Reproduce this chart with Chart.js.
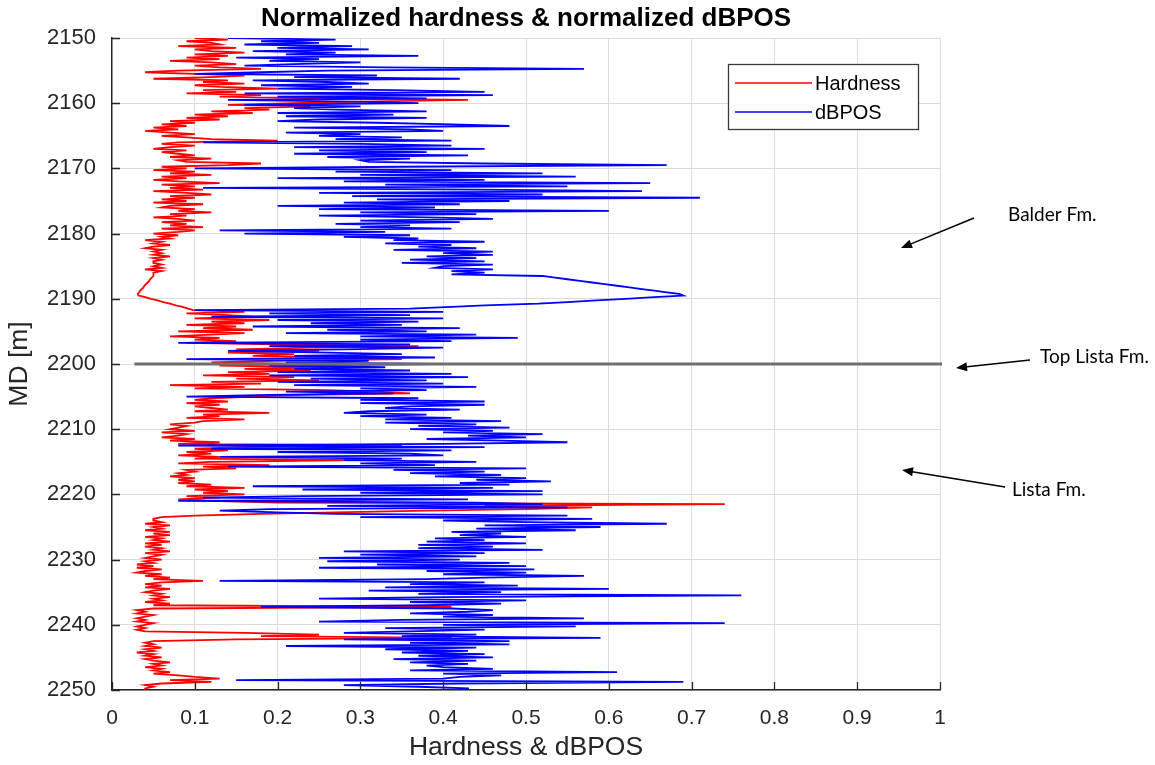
<!DOCTYPE html>
<html>
<head>
<meta charset="utf-8">
<script src="https://cdn.jsdelivr.net/npm/chart.js@4.4.1/dist/chart.umd.min.js"></script>
<style>
  html, body { margin: 0; padding: 0; background: #ffffff; }
  #wrap { position: relative; width: 1155px; height: 765px; }
</style>
</head>
<body>
<div id="wrap"><canvas id="chart" width="1155" height="765"></canvas></div>
<script>
// Measured depth (MD, metres), sampled every 0.25 m
const depthM = [
  2150,2150.25,2150.5,2150.75,2151,2151.25,2151.5,2151.75,
  2152,2152.25,2152.5,2152.75,2153,2153.25,2153.5,2153.75,
  2154,2154.25,2154.5,2154.75,2155,2155.25,2155.5,2155.75,
  2156,2156.25,2156.5,2156.75,2157,2157.25,2157.5,2157.75,
  2158,2158.25,2158.5,2158.75,2159,2159.25,2159.5,2159.75,
  2160,2160.25,2160.5,2160.75,2161,2161.25,2161.5,2161.75,
  2162,2162.25,2162.5,2162.75,2163,2163.25,2163.5,2163.75,
  2164,2164.25,2164.5,2164.75,2165,2165.25,2165.5,2165.75,
  2166,2166.25,2166.5,2166.75,2167,2167.25,2167.5,2167.75,
  2168,2168.25,2168.5,2168.75,2169,2169.25,2169.5,2169.75,
  2170,2170.25,2170.5,2170.75,2171,2171.25,2171.5,2171.75,
  2172,2172.25,2172.5,2172.75,2173,2173.25,2173.5,2173.75,
  2174,2174.25,2174.5,2174.75,2175,2175.25,2175.5,2175.75,
  2176,2176.25,2176.5,2176.75,2177,2177.25,2177.5,2177.75,
  2178,2178.25,2178.5,2178.75,2179,2179.25,2179.5,2179.75,
  2180,2180.25,2180.5,2180.75,2181,2181.25,2181.5,2181.75,
  2182,2182.25,2182.5,2182.75,2183,2183.25,2183.5,2183.75,
  2184,2184.25,2184.5,2184.75,2185,2185.25,2185.5,2185.75,
  2186,2186.25,2186.5,2186.75,2187,2187.25,2187.5,2187.75,
  2188,2188.25,2188.5,2188.75,2189,2189.25,2189.5,2189.75,
  2190,2190.25,2190.5,2190.75,2191,2191.25,2191.5,2191.75,
  2192,2192.25,2192.5,2192.75,2193,2193.25,2193.5,2193.75,
  2194,2194.25,2194.5,2194.75,2195,2195.25,2195.5,2195.75,
  2196,2196.25,2196.5,2196.75,2197,2197.25,2197.5,2197.75,
  2198,2198.25,2198.5,2198.75,2199,2199.25,2199.5,2199.75,
  2200,2200.25,2200.5,2200.75,2201,2201.25,2201.5,2201.75,
  2202,2202.25,2202.5,2202.75,2203,2203.25,2203.5,2203.75,
  2204,2204.25,2204.5,2204.75,2205,2205.25,2205.5,2205.75,
  2206,2206.25,2206.5,2206.75,2207,2207.25,2207.5,2207.75,
  2208,2208.25,2208.5,2208.75,2209,2209.25,2209.5,2209.75,
  2210,2210.25,2210.5,2210.75,2211,2211.25,2211.5,2211.75,
  2212,2212.25,2212.5,2212.75,2213,2213.25,2213.5,2213.75,
  2214,2214.25,2214.5,2214.75,2215,2215.25,2215.5,2215.75,
  2216,2216.25,2216.5,2216.75,2217,2217.25,2217.5,2217.75,
  2218,2218.25,2218.5,2218.75,2219,2219.25,2219.5,2219.75,
  2220,2220.25,2220.5,2220.75,2221,2221.25,2221.5,2221.75,
  2222,2222.25,2222.5,2222.75,2223,2223.25,2223.5,2223.75,
  2224,2224.25,2224.5,2224.75,2225,2225.25,2225.5,2225.75,
  2226,2226.25,2226.5,2226.75,2227,2227.25,2227.5,2227.75,
  2228,2228.25,2228.5,2228.75,2229,2229.25,2229.5,2229.75,
  2230,2230.25,2230.5,2230.75,2231,2231.25,2231.5,2231.75,
  2232,2232.25,2232.5,2232.75,2233,2233.25,2233.5,2233.75,
  2234,2234.25,2234.5,2234.75,2235,2235.25,2235.5,2235.75,
  2236,2236.25,2236.5,2236.75,2237,2237.25,2237.5,2237.75,
  2238,2238.25,2238.5,2238.75,2239,2239.25,2239.5,2239.75,
  2240,2240.25,2240.5,2240.75,2241,2241.25,2241.5,2241.75,
  2242,2242.25,2242.5,2242.75,2243,2243.25,2243.5,2243.75,
  2244,2244.25,2244.5,2244.75,2245,2245.25,2245.5,2245.75,
  2246,2246.25,2246.5,2246.75,2247,2247.25,2247.5,2247.75,
  2248,2248.25,2248.5,2248.75,2249,2249.25,2249.5,2249.75,
  2250
];

// Normalized hardness at each depth
const hardness = [
  0.10,0.14,0.09,0.12, 0.13,0.08,0.15,0.10,
  0.12,0.16,0.10,0.14, 0.09,0.13,0.07,0.12,
  0.15,0.10,0.13,0.18, 0.08,0.04,0.10,0.16,
  0.12,0.05,0.14,0.11, 0.16,0.10,0.13,0.20,
  0.11,0.15,0.09,0.18, 0.13,0.25,0.43,0.30,
  0.22,0.14,0.24,0.16, 0.19,0.12,0.17,0.10,
  0.14,0.09,0.13,0.07, 0.10,0.06,0.09,0.05,
  0.08,0.04,0.07,0.10, 0.06,0.09,0.12,0.20,
  0.08,0.06,0.10,0.07, 0.05,0.09,0.06,0.08,
  0.10,0.07,0.12,0.08, 0.09,0.18,0.14,0.06,
  0.09,0.05,0.10,0.07, 0.12,0.06,0.09,0.05,
  0.08,0.13,0.06,0.10, 0.07,0.11,0.05,0.09,
  0.12,0.07,0.10,0.06, 0.09,0.05,0.11,0.07,
  0.06,0.10,0.08,0.12, 0.07,0.09,0.05,0.08,
  0.10,0.06,0.09,0.07, 0.11,0.06,0.10,0.08,
  0.05,0.08,0.06,0.07, 0.04,0.06,0.05,0.07,
  0.05,0.04,0.06,0.05, 0.06,0.05,0.07,0.05,
  0.06,0.05,0.05,0.06, 0.05,0.06,0.04,0.06,
  0.05,0.05,0.05,0.048, 0.046,0.045,0.043,0.041,
  0.039,0.038,0.036,0.034, 0.033,0.031,0.032,0.04,
  0.047,0.055,0.062,0.07, 0.077,0.085,0.092,0.098,
  0.16,0.09,0.14,0.17, 0.10,0.19,0.12,0.16,
  0.09,0.15,0.11,0.17, 0.08,0.16,0.12,0.07,
  0.13,0.10,0.15,0.09, 0.20,0.37,0.24,0.15,
  0.25,0.14,0.22,0.17, 0.27,0.35,0.20,0.12,
  0.21,0.13,0.26,0.16, 0.24,0.14,0.19,0.11,
  0.22,0.15,0.25,0.12, 0.18,0.07,0.16,0.10,
  0.26,0.32,0.36,0.23, 0.17,0.12,0.10,0.14,
  0.09,0.13,0.10,0.12, 0.14,0.10,0.19,0.11,
  0.13,0.09,0.16,0.11, 0.10,0.07,0.09,0.08,
  0.07,0.10,0.06,0.09, 0.08,0.06,0.10,0.07,
  0.13,0.08,0.35,0.16, 0.10,0.14,0.09,0.12,
  0.08,0.13,0.10,0.30, 0.12,0.08,0.19,0.11,
  0.15,0.09,0.10,0.08, 0.09,0.07,0.10,0.08,
  0.10,0.08,0.12,0.09, 0.16,0.10,0.14,0.11,
  0.16,0.09,0.13,0.08, 0.12,0.20,0.74,0.45,
  0.58,0.50,0.38,0.27, 0.18,0.10,0.06,0.05,
  0.05,0.06,0.04,0.07, 0.05,0.06,0.04,0.07,
  0.05,0.07,0.04,0.06, 0.05,0.07,0.04,0.06,
  0.04,0.06,0.05,0.07, 0.04,0.06,0.05,0.04,
  0.06,0.04,0.05,0.03, 0.05,0.03,0.06,0.04,
  0.03,0.06,0.04,0.07, 0.05,0.11,0.06,0.04,
  0.06,0.04,0.07,0.05, 0.04,0.06,0.05,0.07,
  0.05,0.06,0.04,0.07, 0.05,0.41,0.05,0.03,
  0.04,0.03,0.05,0.04, 0.03,0.04,0.03,0.05,
  0.04,0.03,0.04,0.03, 0.04,0.16,0.25,0.18,
  0.41,0.15,0.05,0.04, 0.05,0.04,0.06,0.04,
  0.05,0.03,0.05,0.04, 0.06,0.04,0.05,0.07,
  0.05,0.06,0.04,0.06, 0.05,0.07,0.05,0.08,
  0.10,0.13,0.07,0.12, 0.06,0.04,0.05,0.04,
  0.04
];

// Normalized dBPOS at each depth
const dbpos = [
  0.14,0.27,0.18,0.25, 0.16,0.29,0.20,0.31,
  0.17,0.27,0.21,0.37, 0.15,0.25,0.19,0.30,
  0.22,0.16,0.33,0.57, 0.26,0.18,0.10,0.32,
  0.22,0.42,0.17,0.26, 0.31,0.18,0.29,0.20,
  0.34,0.45,0.16,0.46, 0.20,0.38,0.14,0.29,
  0.37,0.16,0.30,0.22, 0.27,0.38,0.20,0.34,
  0.21,0.38,0.25,0.20, 0.32,0.41,0.48,0.22,
  0.36,0.40,0.21,0.30, 0.25,0.35,0.27,0.41,
  0.11,0.30,0.41,0.22, 0.45,0.25,0.38,0.22,
  0.43,0.26,0.36,0.30, 0.31,0.45,0.67,0.35,
  0.10,0.41,0.27,0.52, 0.30,0.56,0.20,0.45,
  0.28,0.65,0.33,0.55, 0.11,0.44,0.64,0.25,
  0.52,0.29,0.71,0.32, 0.48,0.28,0.42,0.20,
  0.39,0.25,0.60,0.30, 0.44,0.25,0.38,0.46,
  0.30,0.42,0.27,0.36, 0.30,0.41,0.13,0.33,
  0.16,0.36,0.28,0.37, 0.34,0.45,0.33,0.41,
  0.37,0.44,0.34,0.46, 0.40,0.46,0.38,0.44,
  0.36,0.45,0.35,0.46, 0.40,0.39,0.46,0.41,
  0.45,0.41,0.52,0.535, 0.55,0.565,0.58,0.595,
  0.61,0.625,0.64,0.655, 0.67,0.685,0.69,0.655,
  0.62,0.585,0.55,0.515, 0.45,0.41,0.36,0.10,
  0.40,0.19,0.36,0.12, 0.40,0.20,0.37,0.24,
  0.35,0.17,0.42,0.26, 0.38,0.21,0.44,0.30,
  0.49,0.30,0.41,0.08, 0.36,0.19,0.40,0.28,
  0.14,0.26,0.35,0.22, 0.39,0.09,0.31,0.21,
  0.39,0.19,0.33,0.22, 0.36,0.20,0.41,0.19,
  0.43,0.24,0.38,0.20, 0.40,0.22,0.44,0.30,
  0.38,0.21,0.34,0.19, 0.09,0.37,0.30,0.45,
  0.30,0.45,0.36,0.33, 0.42,0.31,0.28,0.38,
  0.30,0.41,0.33,0.47, 0.33,0.44,0.37,0.48,
  0.36,0.46,0.40,0.52, 0.43,0.50,0.38,0.47,
  0.55,0.40,0.08,0.45, 0.12,0.41,0.20,0.36,
  0.40,0.13,0.35,0.28, 0.44,0.30,0.39,0.14,
  0.50,0.34,0.45,0.36, 0.47,0.39,0.50,0.44,
  0.53,0.42,0.48,0.17, 0.46,0.23,0.52,0.30,
  0.52,0.23,0.11,0.43, 0.08,0.44,0.52,0.26,
  0.55,0.19,0.13,0.20, 0.27,0.55,0.30,0.58,
  0.40,0.50,0.67,0.45, 0.59,0.44,0.56,0.41,
  0.47,0.42,0.50,0.39, 0.45,0.38,0.50,0.37,
  0.46,0.37,0.52,0.28, 0.45,0.30,0.44,0.25,
  0.42,0.26,0.48,0.32, 0.50,0.25,0.51,0.38,
  0.50,0.40,0.57,0.45, 0.38,0.13,0.45,0.36,
  0.49,0.33,0.60,0.31, 0.47,0.37,0.76,0.40,
  0.25,0.50,0.36,0.47, 0.38,0.18,0.41,0.46,
  0.43,0.36,0.46,0.40, 0.57,0.35,0.25,0.74,
  0.40,0.56,0.33,0.45, 0.36,0.28,0.44,0.35,
  0.59,0.28,0.48,0.36, 0.48,0.21,0.44,0.33,
  0.43,0.35,0.45,0.37, 0.46,0.34,0.44,0.36,
  0.43,0.38,0.40,0.46, 0.36,0.61,0.40,0.47,
  0.42,0.40,0.15,0.69, 0.42,0.28,0.37,0.43,
  0.43
];

const seriesNames = ['Hardness', 'dBPOS'];
const xTickValues = [0, 0.1, 0.2, 0.3, 0.4, 0.5, 0.6, 0.7, 0.8, 0.9, 1];
const xTickLabels = ['0', '0.1', '0.2', '0.3', '0.4', '0.5', '0.6', '0.7', '0.8', '0.9', '1'];
const yTickValues = [2150, 2160, 2170, 2180, 2190, 2200, 2210, 2220, 2230, 2240, 2250];
const yTickLabels = ['2150', '2160', '2170', '2180', '2190', '2200', '2210', '2220', '2230', '2240', '2250'];

// Formation tops / intervals marked beside the log
const topListaDepth = 2200;
const formationLabels = ['Balder Fm.', 'Top Lista Fm.', 'Lista Fm.'];

const FONT = "'Liberation Sans', Arial, Helvetica, sans-serif";
const NOTE_FONT = "Lato, 'Open Sans', sans-serif";
const AXIS_COLOR = '#262626';

function lookup(values, labels, v) {
  const i = values.findIndex(t => Math.abs(t - v) < 1e-6);
  return i < 0 ? '' : labels[i];
}

function arrow(ctx, x1, y1, x2, y2) {
  const ang = Math.atan2(y2 - y1, x2 - x1);
  const len = 11, half = 4.5;
  ctx.beginPath();
  ctx.moveTo(x1, y1);
  ctx.lineTo(x2 - Math.cos(ang) * len * 0.8, y2 - Math.sin(ang) * len * 0.8);
  ctx.stroke();
  ctx.beginPath();
  ctx.moveTo(x2, y2);
  ctx.lineTo(x2 - Math.cos(ang) * len + Math.sin(ang) * half, y2 - Math.sin(ang) * len - Math.cos(ang) * half);
  ctx.lineTo(x2 - Math.cos(ang) * len - Math.sin(ang) * half, y2 - Math.sin(ang) * len + Math.cos(ang) * half);
  ctx.closePath();
  ctx.fill();
}

// Inward tick marks, the Top Lista marker line, the boxed legend and the formation notes
const overlay = {
  id: 'overlay',
  afterDatasetsDraw(chart) {
    const { ctx, chartArea: a, scales: { x, y } } = chart;
    ctx.save();
    // inward ticks
    ctx.strokeStyle = AXIS_COLOR;
    ctx.lineWidth = 1.3;
    ctx.beginPath();
    yTickValues.forEach(v => {
      const py = Math.round(y.getPixelForValue(v)) + 0.5;
      ctx.moveTo(a.left, py); ctx.lineTo(a.left + 8, py);
    });
    xTickValues.forEach(v => {
      const px = Math.round(x.getPixelForValue(v)) + 0.5;
      ctx.moveTo(px, a.bottom); ctx.lineTo(px, a.bottom - 8);
    });
    ctx.stroke();

    // Top Lista Fm. marker
    const ty = y.getPixelForValue(topListaDepth);
    ctx.strokeStyle = '#6f6f6f';
    ctx.lineWidth = 3;
    ctx.beginPath();
    ctx.moveTo(x.getPixelForValue(0.027), ty);
    ctx.lineTo(a.right + 2, ty);
    ctx.stroke();

    // legend
    const lx = 728.5, ly = 64.5, lw = 190, lh = 65;
    ctx.fillStyle = '#ffffff';
    ctx.fillRect(lx, ly, lw, lh);
    ctx.strokeStyle = '#3a3a3a';
    ctx.lineWidth = 1.3;
    ctx.strokeRect(lx, ly, lw, lh);
    const colors = ['#ff0000', '#0000ff'];
    const rows = [83, 112];
    ctx.font = '20px ' + FONT;
    ctx.textBaseline = 'middle';
    ctx.textAlign = 'left';
    seriesNames.forEach((name, i) => {
      ctx.strokeStyle = colors[i];
      ctx.lineWidth = 1.6;
      ctx.beginPath();
      ctx.moveTo(735, rows[i]); ctx.lineTo(812, rows[i]);
      ctx.stroke();
      ctx.fillStyle = '#000000';
      ctx.fillText(name, 815, rows[i] + 1);
    });

    // formation notes and arrows
    ctx.fillStyle = '#000000';
    ctx.strokeStyle = '#000000';
    ctx.lineWidth = 1.5;
    ctx.font = '19px ' + NOTE_FONT;
    ctx.fillText(formationLabels[0], 1008, 215);
    ctx.fillText(formationLabels[1], 1040, 357);
    ctx.fillText(formationLabels[2], 1012, 490);
    arrow(ctx, 974, 218, 901, 248);
    arrow(ctx, 1030, 360, 956, 368);
    arrow(ctx, 1005, 487, 902, 470);
    ctx.restore();
  }
};

const ctx = document.getElementById('chart').getContext('2d');
new Chart(ctx, {
  type: 'scatter',
  data: {
    datasets: [
      {
        label: seriesNames[0],
        data: depthM.map((d, i) => ({ x: hardness[i], y: d })),
        showLine: true,
        borderColor: '#ff0000',
        borderWidth: 1.8,
        pointRadius: 0,
        tension: 0,
        order: 1
      },
      {
        label: seriesNames[1],
        data: depthM.map((d, i) => ({ x: dbpos[i], y: d })),
        showLine: true,
        borderColor: '#0000ff',
        borderWidth: 1.8,
        pointRadius: 0,
        tension: 0,
        order: 0
      }
    ]
  },
  options: {
    responsive: false,
    animation: false,
    devicePixelRatio: 1,
    layout: { padding: { left: 0, right: 215, top: 0, bottom: 0 } },
    plugins: {
      legend: { display: false },
      tooltip: { enabled: false },
      title: {
        display: true,
        text: 'Normalized hardness & normalized dBPOS',
        fullSize: false,
        color: '#000000',
        font: { family: FONT, size: 26, weight: 'bold', lineHeight: 1 },
        padding: { top: 6, bottom: 6 }
      }
    },
    scales: {
      x: {
        type: 'linear',
        min: 0,
        max: 1,
        afterFit(scale) { scale.height = 75; },
        ticks: {
          stepSize: 0.1,
          autoSkip: false,
          maxRotation: 0,
          padding: 16,
          color: AXIS_COLOR,
          font: { family: FONT, size: 21 },
          callback: v => lookup(xTickValues, xTickLabels, v)
        },
        grid: { color: '#dcdcdc', lineWidth: 1, drawTicks: false },
        border: { display: true, color: AXIS_COLOR, width: 1.4 },
        title: {
          display: true,
          text: 'Hardness & dBPOS',
          color: AXIS_COLOR,
          font: { family: FONT, size: 26.5 },
          padding: { top: 0, bottom: 1 }
        }
      },
      y: {
        type: 'linear',
        reverse: true,
        min: 2150,
        max: 2250,
        afterFit(scale) { scale.width = 112; },
        ticks: {
          stepSize: 10,
          autoSkip: false,
          padding: 16,
          color: AXIS_COLOR,
          font: { family: FONT, size: 22 },
          callback: v => lookup(yTickValues, yTickLabels, v)
        },
        grid: { color: '#dcdcdc', lineWidth: 1, drawTicks: false },
        border: { display: true, color: AXIS_COLOR, width: 1.4 },
        title: {
          display: true,
          text: 'MD [m]',
          color: AXIS_COLOR,
          font: { family: FONT, size: 26.5 },
          padding: { top: 4, bottom: 0 }
        }
      }
    }
  },
  plugins: [overlay]
});
</script>
</body>
</html>
